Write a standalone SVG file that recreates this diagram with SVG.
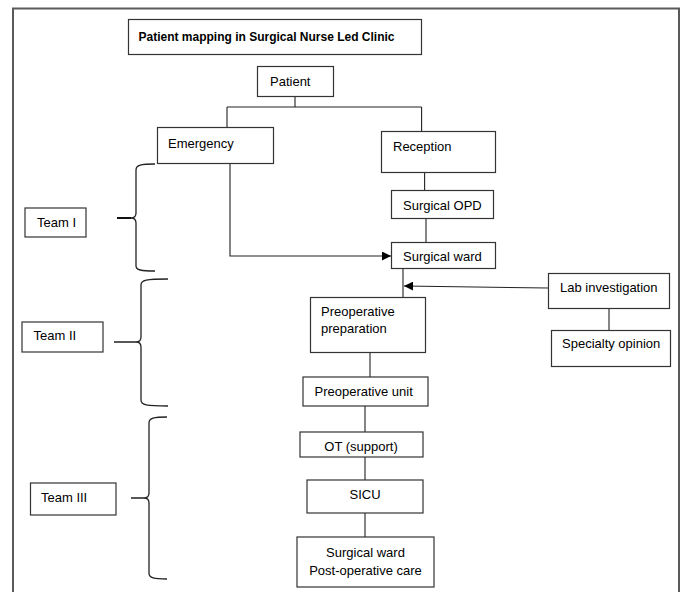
<svg xmlns="http://www.w3.org/2000/svg" width="682" height="592" viewBox="0 0 682 592">
<style>
.box{fill:#fff;stroke:#333;stroke-width:1.2}
.t{font-family:"Liberation Sans",Arial,sans-serif;font-size:13px;fill:#000}
.tc{text-anchor:middle}
.title{font-family:"Liberation Sans",Arial,sans-serif;font-size:12px;font-weight:bold;fill:#000}
.ln{fill:none;stroke:#222;stroke-width:1.1}
.br{fill:none;stroke:#222;stroke-width:1.3}
.tick{fill:none;stroke:#111;stroke-width:2}
</style>
<defs>
<marker id="ah" viewBox="0 0 10 10" refX="10" refY="5" markerWidth="9" markerHeight="9" markerUnits="userSpaceOnUse" orient="auto">
<path d="M0,0 L10,5 L0,10 z" fill="#000"/>
</marker>
</defs>
<rect width="682" height="592" fill="#fff"/>
<path d="M13,600 L13,8.5 L679,8.5 L679,600" fill="none" stroke="#5a5a5a" stroke-width="2"/>

<g id="connectors">
<path class="ln" d="M295,96.5 V107 M227,107 H421.6 M227,107 V127.5 M421.6,107 V131.5"/>
<path class="ln" d="M424.6,172.5 V190.5"/>
<path class="ln" d="M426,218.5 V242.5"/>
<path class="ln" d="M230,163.5 V256 H391" marker-end="url(#ah)"/>
<path class="ln" d="M403,268.5 V297.5"/>
<path class="ln" d="M548,288 L404,286" marker-end="url(#ah)"/>
<path class="ln" d="M609,308.5 V330.5"/>
<path class="ln" d="M370,352.5 V377"/>
<path class="ln" d="M365,406 V432 M365,457 V480 M365,513 V537"/>
</g>

<g id="braces">
<path class="br" d="M155,164 C141,164 136,165 136,170 V213 Q136,218 131,218 Q136,218 136,223 V266 C136,270 141,271 155,271"/>
<path class="tick" d="M117,218 H131"/>
<path class="br" d="M168,279 C146,279 141,280 141,285 V337 Q141,342 136,342 Q141,342 141,347 V400 C141,405 146,406 168,406"/>
<path class="tick" d="M114,342 H136" style="stroke-width:1.4"/>
<path class="br" d="M167,417 C154,417 149,418 149,423 V493 Q149,498 144,498 Q149,498 149,503 V573 C149,578 154,579 167,579"/>
<path class="tick" d="M131,498 H144" style="stroke-width:1.4"/>
</g>

<g id="title"><rect class="box" x="128.5" y="19.5" width="293" height="35"/><text class="title" x="138.5" y="41">Patient mapping in Surgical Nurse Led Clinic</text></g>
<g id="patient"><rect class="box" x="257.5" y="66.5" width="76" height="30"/><text class="t" x="270" y="86">Patient</text></g>
<g id="emergency"><rect class="box" x="157.5" y="127.5" width="116" height="36"/><text class="t" x="168" y="148">Emergency</text></g>
<g id="reception"><rect class="box" x="381.5" y="131.5" width="114" height="41"/><text class="t" x="393" y="151">Reception</text></g>
<g id="surgical-opd"><rect class="box" x="391.5" y="190.5" width="102" height="28"/><text class="t" x="403" y="210">Surgical OPD</text></g>
<g id="surgical-ward"><rect class="box" x="391.5" y="242.5" width="104" height="26"/><text class="t" x="403" y="261">Surgical ward</text></g>
<g id="lab-investigation"><rect class="box" x="548.5" y="273.5" width="121" height="35"/><text class="t" x="560" y="292">Lab investigation</text></g>
<g id="specialty-opinion"><rect class="box" x="551.5" y="330.5" width="119" height="36"/><text class="t" x="562" y="348">Specialty opinion</text></g>
<g id="preop-preparation"><rect class="box" x="310.5" y="297.5" width="115" height="55"/><text class="t" x="321" y="316">Preoperative</text><text class="t" x="321" y="333">preparation</text></g>
<g id="preop-unit"><rect class="box" x="303" y="377" width="125" height="29"/><text class="t" x="314.5" y="396">Preoperative unit</text></g>
<g id="ot-support"><rect class="box" x="300" y="432" width="123" height="25"/><text class="t tc" x="361" y="451">OT (support)</text></g>
<g id="sicu"><rect class="box" x="307" y="480" width="116" height="33"/><text class="t tc" x="365" y="499">SICU</text></g>
<g id="surgical-ward-postop"><rect class="box" x="297" y="537" width="137" height="50"/><text class="t tc" x="365.5" y="557">Surgical ward</text><text class="t tc" x="365.5" y="575">Post-operative care</text></g>
<g id="team-1"><rect class="box" x="25" y="208" width="61" height="29"/><text class="t" x="37" y="227">Team I</text></g>
<g id="team-2"><rect class="box" x="22" y="322" width="81" height="30"/><text class="t" x="33.5" y="340">Team II</text></g>
<g id="team-3"><rect class="box" x="30.5" y="483" width="85.5" height="32"/><text class="t" x="41" y="502">Team III</text></g>
</svg>
